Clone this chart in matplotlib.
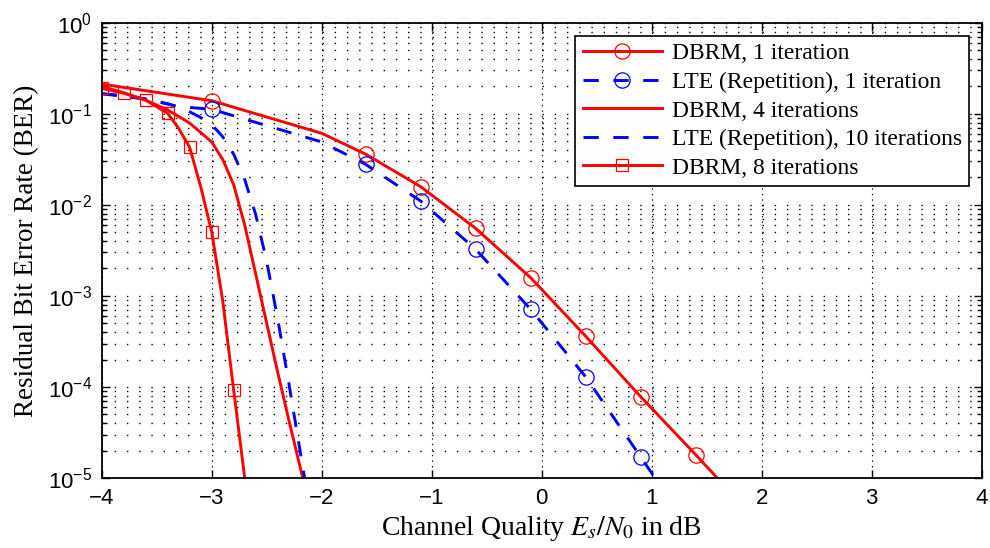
import numpy as np
import matplotlib
matplotlib.use("Agg")
import matplotlib.pyplot as plt
from matplotlib.ticker import LogLocator, MultipleLocator, NullLocator

# values (x in dB, y = residual BER)
dbrm1_x = [-4.0, -3.0, -2.0, -1.6, -1.1, -0.6, -0.1, 0.4, 0.9, 1.4, 1.9]
dbrm1_y = [0.212, 0.139, 0.061, 0.036, 0.0158, 5.5e-3, 1.58e-3, 3.6e-4, 7.8e-5, 1.8e-5, 4.0e-6]
dbrm1_marks = [1, 3, 4, 5, 6, 7, 8, 9]

lte1_x = [-4.0, -3.6, -3.3, -3.0, -2.0, -1.6, -1.1, -0.6, -0.1, 0.4, 0.9, 1.4]
lte1_y = [0.166, 0.145, 0.120, 0.112, 0.049, 0.0278, 0.011, 3.24e-3, 7.1e-4, 1.29e-4, 1.7e-5, 2.2e-6]
lte1_marks = [3, 5, 6, 7, 8, 9, 10, 11]

dbrm4_x = [-4.0, -3.8, -3.6, -3.4, -3.2, -3.0, -2.9, -2.8, -2.7, -2.6, -2.5, -2.4, -2.3, -2.2, -2.1]
dbrm4_y = [0.20, 0.17, 0.141, 0.11, 0.079, 0.049, 0.0316, 0.0166, 6.0e-3, 1.74e-3,
           5.0e-4, 1.45e-4, 4.4e-5, 1.38e-5, 4.4e-6]

lte10_x = [-4.0, -3.8, -3.6, -3.4, -3.3, -3.2, -3.1, -3.0, -2.9, -2.8, -2.7, -2.6, -2.5,
           -2.4, -2.3, -2.2, -2.1]
lte10_y = [0.166, 0.158, 0.145, 0.129, 0.117, 0.105, 0.091, 0.076, 0.056, 0.036, 0.019,
           7.8e-3, 2.4e-3, 5.6e-4, 1.12e-4, 2.1e-5, 4.0e-6]

dbrm8_x = [-4.0, -3.8, -3.6, -3.4, -3.3, -3.2, -3.1, -3.0, -2.9, -2.8, -2.6]
dbrm8_y = [0.19, 0.168, 0.1415, 0.101, 0.069, 0.0427, 0.0158, 5.05e-3, 8.9e-4, 9.2e-5, 1.1e-6]
dbrm8_marks = [0, 1, 2, 3, 5, 7, 9]

labels = ["DBRM, 1 iteration", "LTE (Repetition), 1 iteration", "DBRM, 4 iterations",
          "LTE (Repetition), 10 iterations", "DBRM, 8 iterations"]

plt.rcParams["font.family"] = "Liberation Sans"
plt.rcParams["mathtext.fontset"] = "custom"
plt.rcParams["mathtext.rm"] = "Liberation Sans"
plt.rcParams["mathtext.it"] = "Liberation Sans:italic"
plt.rcParams["lines.scale_dashes"] = False

fig = plt.figure(figsize=(9.9, 5.48), dpi=100)
ax = fig.add_axes([0.1027, 0.1277, 0.889, 0.8309])

red = "#ff0000"
blue = "#0000ff"
dash = (0, (11, 10.5))
lw = 2.1

ax.plot(dbrm1_x, dbrm1_y, color=red, lw=lw, marker="o", ms=11, mfc="none",
        mew=0.9, markevery=dbrm1_marks, label=labels[0])
ax.plot(lte1_x, lte1_y, color=blue, lw=lw, ls=dash, dash_capstyle="butt", marker="o",
        ms=11, mfc="none", mew=0.9, markevery=lte1_marks, label=labels[1])
ax.plot(dbrm4_x, dbrm4_y, color=red, lw=lw, label=labels[2])
ax.plot(lte10_x, lte10_y, color=blue, lw=lw, ls=dash, dash_capstyle="butt", label=labels[3])
ax.plot(dbrm8_x, dbrm8_y, color=red, lw=lw, marker="s", ms=8.5, mfc="none",
        mew=0.9, markevery=dbrm8_marks, label=labels[4])

ax.set_yscale("log")
ax.set_xlim(-4, 4)
ax.set_ylim(1e-5, 1)
ax.xaxis.set_major_locator(MultipleLocator(1))
ax.xaxis.set_minor_locator(NullLocator())
ax.yaxis.set_major_locator(LogLocator(base=10, numticks=10))
ax.yaxis.set_minor_locator(LogLocator(base=10, subs=np.arange(2, 10), numticks=20))

ax.grid(which="major", axis="x", color="k", lw=0.8, ls=(0, (1, 3)))
ax.grid(which="both", axis="y", color="k", lw=1.0, ls=(0, (1, 7.8)))

ax.tick_params(which="both", direction="in", top=True, right=True, width=1.0,
               labelsize=16, colors="k")
ax.tick_params(which="major", length=6, pad=7)
ax.tick_params(which="minor", length=3.5)
for s in ax.spines.values():
    s.set_linewidth(1.3)

ax.set_xlabel("Channel Quality $E_s/N_0$ in dB", fontsize=20, family="Liberation Serif",
              math_fontfamily="stix", labelpad=4)
ax.set_ylabel("Residual Bit Error Rate (BER)", fontsize=19.5, family="Liberation Serif",
              labelpad=6)

leg = ax.legend(loc="upper right", prop={"family": "Liberation Serif", "size": 17},
                handlelength=3.35, borderaxespad=0.55, fancybox=False, framealpha=1,
                edgecolor="k", borderpad=0.3, labelspacing=0.3, handletextpad=0.42)
leg.get_frame().set_linewidth(1.2)

fig.savefig("out.png", dpi=100)
